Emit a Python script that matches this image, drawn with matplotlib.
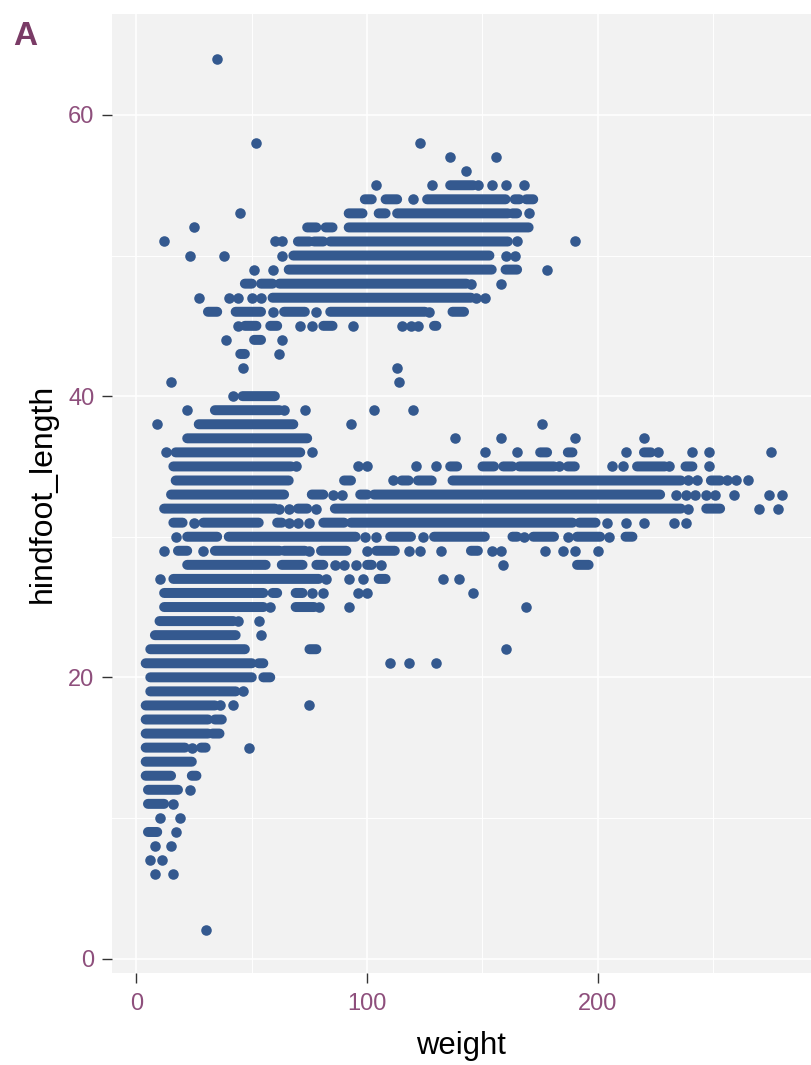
import matplotlib
matplotlib.use("Agg")
import matplotlib.pyplot as plt

# Observed rows: each hindfoot_length has runs of weights [from, to]; from == to is a lone point.
hindfoot_rows = [64, 58, 57, 56, 55, 54, 53, 52, 51, 50, 49, 48, 47, 46, 45, 44, 43, 42, 41, 40,
                 39, 38, 37, 36, 35, 34, 33, 32, 31, 30, 29, 28, 27, 26, 25, 24, 23, 22, 21, 20,
                 19, 18, 17, 16, 15, 14, 13, 12, 11, 10, 9, 8, 7, 6, 2]

weight_from = [
    [35],
    [52, 123],
    [136, 156],
    [143],
    [104, 128, 136, 148, 154, 160, 168],
    [99, 108, 120, 126, 164, 169],
    [45, 92, 105, 113, 163, 170],
    [25, 74, 82, 92],
    [12, 60, 63, 70, 77, 84, 165, 190],
    [23, 38, 63, 68, 160, 164],
    [51, 59, 66, 160, 178],
    [47, 54, 62, 145, 158],
    [27, 40, 44, 50, 54, 59, 147, 151],
    [31, 43, 59, 64, 78, 84, 127, 137],
    [44, 47, 58, 71, 76, 81, 94, 115, 119, 122, 129],
    [39, 51, 63],
    [45, 62],
    [46, 113],
    [15, 114],
    [42, 46],
    [22, 34, 64, 73, 103, 120],
    [9, 27, 93, 176],
    [22, 138, 158, 190, 220],
    [13, 17, 76, 151, 165, 175, 187, 212, 220, 226, 241, 248, 275],
    [16, 69, 96, 100, 121, 130, 136, 150, 159, 166, 183, 187, 206, 211, 217, 231, 238, 248],
    [17, 90, 111, 115, 122, 137, 239, 243, 249, 256, 260, 265],
    [15, 76, 85, 89, 97, 103, 234, 238, 242, 247, 251, 259, 274, 280],
    [12, 62, 66, 70, 78, 86, 239, 247, 270, 278],
    [16, 25, 29, 61, 66, 70, 75, 81, 93, 192, 204, 212, 220, 233, 238],
    [17, 22, 40, 99, 104, 110, 124, 129, 163, 168, 172, 187, 191, 205, 212],
    [12, 18, 29, 34, 64, 75, 80, 100, 104, 118, 123, 132, 145, 154, 158, 177, 185, 190, 200],
    [22, 63, 78, 86, 90, 95, 100, 106, 159, 191],
    [10, 16, 82, 92, 98, 105, 133, 140],
    [12, 59, 69, 76, 81, 96, 100, 146],
    [12, 58, 69, 79, 92, 169],
    [10, 44, 53],
    [8, 54],
    [6, 75, 160],
    [4, 53, 110, 118, 130],
    [6, 55],
    [6, 46],
    [4, 36, 42, 75],
    [4, 34],
    [4, 33],
    [4, 24, 28, 49],
    [4],
    [4, 24],
    [5, 23],
    [5, 16],
    [10, 19],
    [5, 17],
    [8, 15],
    [6, 11],
    [8, 16],
    [30],
]

weight_to = [
    [35],
    [52, 123],
    [136, 156],
    [143],
    [104, 128, 146, 148, 154, 160, 168],
    [102, 113, 120, 160, 166, 172],
    [45, 98, 108, 161, 165, 170],
    [25, 78, 85, 170],
    [12, 60, 63, 75, 81, 161, 165, 190],
    [23, 38, 63, 153, 160, 164],
    [51, 59, 154, 165, 178],
    [50, 59, 143, 145, 158],
    [27, 40, 44, 50, 54, 145, 147, 151],
    [35, 54, 59, 73, 78, 125, 127, 142],
    [44, 52, 61, 71, 76, 85, 94, 115, 119, 122, 130],
    [39, 54, 63],
    [47, 62],
    [46, 113],
    [15, 114],
    [42, 60],
    [22, 62, 64, 73, 103, 120],
    [9, 68, 93, 176],
    [74, 138, 158, 190, 220],
    [13, 71, 76, 151, 165, 178, 189, 212, 223, 226, 241, 248, 275],
    [67, 69, 96, 100, 121, 130, 139, 155, 163, 181, 183, 190, 206, 211, 229, 231, 241, 248],
    [66, 93, 111, 118, 128, 236, 239, 243, 253, 256, 260, 265],
    [64, 81, 85, 89, 100, 227, 234, 238, 242, 247, 251, 259, 274, 280],
    [60, 62, 66, 74, 78, 236, 239, 253, 270, 278],
    [20, 25, 53, 63, 66, 70, 75, 90, 189, 199, 204, 212, 220, 233, 238],
    [17, 35, 95, 99, 104, 119, 124, 151, 165, 168, 181, 187, 201, 205, 215],
    [12, 22, 29, 62, 73, 75, 91, 100, 112, 118, 123, 132, 148, 154, 158, 177, 185, 190, 200],
    [56, 72, 81, 86, 90, 95, 102, 106, 159, 196],
    [10, 79, 82, 92, 98, 108, 133, 140],
    [55, 61, 72, 76, 81, 96, 100, 146],
    [55, 58, 77, 79, 92, 169],
    [42, 44, 53],
    [43, 54],
    [47, 78, 160],
    [50, 55, 110, 118, 130],
    [50, 58],
    [43, 46],
    [34, 36, 42, 75],
    [31, 37],
    [31, 36],
    [21, 24, 30, 49],
    [24],
    [15, 26],
    [18, 23],
    [12, 16],
    [10, 19],
    [9, 17],
    [8, 15],
    [6, 11],
    [8, 16],
    [30],
]

x_ticks = [0, 100, 200]
x_minor = [50, 150, 250]
y_ticks = [0, 20, 40, 60]
y_minor = [10, 30, 50]

PANEL = "#F2F2F2"
DOT = "#34598F"
TICK_TEXT = "#8E4F7C"
TITLE = "#7A3B66"

plt.rcParams["font.family"] = ["Liberation Sans", "DejaVu Sans"]

W, H = 811, 1065
fig = plt.figure(figsize=(W / 100, H / 100), dpi=100, facecolor="white")
ax = fig.add_axes([112 / W, 1 - 973 / H, 699 / W, 959 / H], facecolor=PANEL)
ax.set_xlim(-10.6, 292.4)
ax.set_ylim(-1.03, 67.18)

for s in ax.spines.values():
    s.set_visible(False)

ax.set_xticks(x_ticks)
ax.set_yticks(y_ticks)
ax.set_xticks(x_minor, minor=True)
ax.set_yticks(y_minor, minor=True)
ax.grid(True, which="major", color="white", linewidth=1.2, zorder=1)
ax.grid(True, which="minor", color="white", linewidth=0.7, zorder=1)
ax.set_axisbelow(True)
ax.tick_params(axis="y", which="major", length=7.2, width=1.0, color="#333333", labelsize=17,
               labelcolor=TICK_TEXT, pad=5.5)
ax.tick_params(axis="x", which="major", length=7.2, width=1.0, color="#333333", labelsize=17,
               labelcolor=TICK_TEXT, pad=7.5)
ax.tick_params(which="minor", length=0)

dot_d = 7.6  # points, lone dots
run_w = 7.2  # points, thickness of merged runs
for y, starts, ends in zip(hindfoot_rows, weight_from, weight_to):
    for a, b in zip(starts, ends):
        if a == b:
            ax.scatter([a], [y], s=dot_d ** 2, color=DOT, linewidths=0, zorder=3)
        else:
            ax.plot([a, b], [y, y], color=DOT, lw=run_w, solid_capstyle="round", zorder=3, snap=False)

ax.set_xlabel("weight", fontsize=22.3, color="black", labelpad=0)
ax.set_ylabel("hindfoot_length", fontsize=23, color="black", labelpad=0)
ax.xaxis.set_label_coords(0.4993, -(1046 - 973) / 959)
ax.xaxis.label.set_verticalalignment("center")
ax.yaxis.set_label_coords(-(112 - 43) / 699, 0.5)
ax.yaxis.label.set_verticalalignment("center")

fig.text(13 / W, 1 - 45 / H, "A", fontsize=24, fontweight="bold", color=TITLE, ha="left", va="baseline")

fig.savefig("out.png", dpi=100)
